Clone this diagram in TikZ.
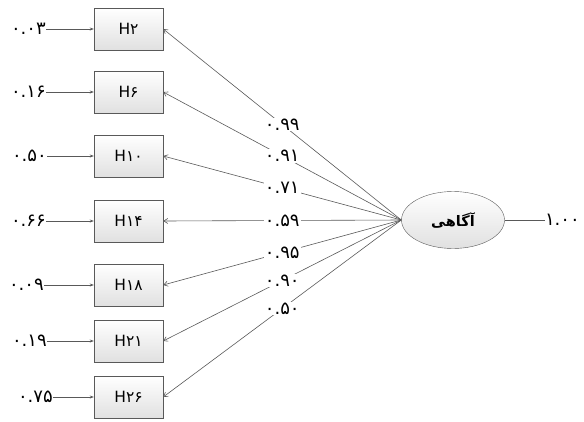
\documentclass[tikz,border=0pt]{standalone}
\usepackage{fontspec}
\setmainfont{DejaVu Sans}
\newfontfamily\arabicfont[Script=Arabic]{DejaVu Sans}
\TeXXeTstate=1
\usetikzlibrary{arrows.meta,shapes.geometric}
\begin{document}
\begin{tikzpicture}[x=1pt,y=-1pt,
  every node/.style={font=\fontsize{13.5}{13.5}\selectfont},
  num/.style={font=\fontsize{18}{18}\selectfont\arabicfont},
  obs/.style={draw=black!65, top color=white, bottom color=black!12, minimum width=69pt, minimum height=42pt, inner sep=0pt, font=\fontsize{15.5}{15.5}\selectfont},
  lat/.style={ellipse, draw=black!65, top color=white, bottom color=black!12, minimum width=103pt, minimum height=57pt, inner sep=0pt},
  errlab/.style={num, anchor=east, inner sep=0pt},
  coef/.style={num, fill=white, inner sep=1pt},
  inarrow/.style={draw=black!65, line width=0.6pt, -{Stealth[length=4pt,width=3pt]}},
  loadarrow/.style={draw=black!65, line width=0.6pt, -{Straight Barb[length=4pt,width=5pt]}}
]
\useasboundingbox (0,0) rectangle (584,421);

\node[lat, font=\fontsize{14.5}{14.5}\selectfont\arabicfont\bfseries] (L) at (453,220) {\beginR آگاهی\endR};
\node[num, anchor=east, inner sep=0pt] (out) at (580,220) {۱.۰۰};
\draw[draw=black!65, line width=0.6pt] (L.east) -- (out.west);

\node[obs] (h1) at (128.5,29) {H\arabicfont ۲};
\node[obs] (h2) at (128.5,92) {H\arabicfont ۶};
\node[obs] (h3) at (128.5,156) {H\arabicfont ۱۰};
\node[obs] (h4) at (128.5,221) {H\arabicfont ۱۴};
\node[obs] (h5) at (128.5,285) {H\arabicfont ۱۸};
\node[obs] (h6) at (128.5,341) {H\arabicfont ۲۱};
\node[obs] (h7) at (128.5,397) {H\arabicfont ۲۶};

\node[errlab] (e1) at (46,29) {۰.۰۳};
\node[errlab] (e2) at (46,92) {۰.۱۶};
\node[errlab] (e3) at (47,156) {۰.۵۰};
\node[errlab] (e4) at (46,221) {۰.۶۶};
\node[errlab] (e5) at (44,285) {۰.۰۹};
\node[errlab] (e6) at (47,341) {۰.۱۹};
\node[errlab] (e7) at (53,397) {۰.۷۵};

\foreach \i in {1,...,7} {
  \draw[inarrow] (e\i.east) -- (h\i.west);
}

\draw[loadarrow] (L.west) -- node[coef] {۰.۹۹} (h1.east);
\draw[loadarrow] (L.west) -- node[coef] {۰.۹۱} (h2.east);
\draw[loadarrow] (L.west) -- node[coef] {۰.۷۱} (h3.east);
\draw[loadarrow] (L.west) -- node[coef] {۰.۵۹} (h4.east);
\draw[loadarrow] (L.west) -- node[coef] {۰.۹۵} (h5.east);
\draw[loadarrow] (L.west) -- node[coef] {۰.۹۰} (h6.east);
\draw[loadarrow] (L.west) -- node[coef] {۰.۵۰} (h7.east);
\end{tikzpicture}
\end{document}
